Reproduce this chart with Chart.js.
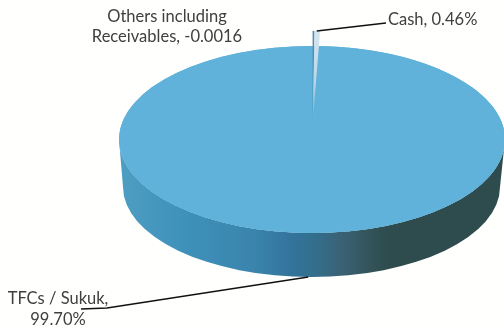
<!DOCTYPE html>
<html>
<head>
<meta charset="utf-8">
<title>Asset allocation</title>
<script src="https://cdn.jsdelivr.net/npm/chart.js@4/dist/chart.umd.min.js"></script>
<style>
  html, body { margin: 0; padding: 0; background: #fffffd; }
  #wrap { position: relative; width: 504px; height: 328px; overflow: hidden; }
</style>
</head>
<body>
<div id="wrap"><canvas id="allocationPie"></canvas></div>
<script>
// slice values as fractions of the fund, smallest first so they sit at 12 o'clock
const categories = ['Others including Receivables', 'Cash', 'TFCs / Sukuk'];
const shares = [-0.0016, 0.0046, 0.9970];
const shareLabels = ['-0.0016', '0.46%', '99.70%'];

const canvas = document.getElementById('allocationPie');
const chartCtx = canvas.getContext('2d');

// ===== 3D LOOK =====
// the flat pie gets squashed into an ellipse and a side wall goes under it
const tilt = { cx: 312, cy: 139.5, rx: 193, ry: 93.5 };
const base = { cx: 311.5, cy: 187, rx: 188.5, ry: 90 };
const explodeLift = 15;
const faceColor = '#60b2da';

function wallGradient(ctx) {
    const g = ctx.createLinearGradient(tilt.cx - tilt.rx, 0, tilt.cx + tilt.rx, 0);
    g.addColorStop(0, '#4f9dc2');
    g.addColorStop(0.16, '#3f92bb');
    g.addColorStop(0.35, '#3a84ad');
    g.addColorStop(0.45, '#33739a');
    g.addColorStop(0.5, '#33708f');
    g.addColorStop(0.58, '#3a6173');
    g.addColorStop(0.65, '#335459');
    g.addColorStop(0.7, '#2e4b4e');
    g.addColorStop(1, '#2e4b4e');
    return g;
}

function drawWall(ctx, arc) {
    // only the part of a slice facing the viewer has a visible wall
    const from = Math.max(arc.startAngle, 0);
    const to = Math.min(arc.endAngle, Math.PI);
    if (to <= from) return;
    ctx.beginPath();
    ctx.ellipse(tilt.cx, tilt.cy, tilt.rx, tilt.ry, 0, from, to);
    ctx.ellipse(base.cx, base.cy, base.rx, base.ry, 0, to, from, true);
    ctx.closePath();
    ctx.fillStyle = wallGradient(ctx);
    ctx.fill();
}

// pale at the rim, fading into the top face towards the tip
const cashColor = chartCtx.createLinearGradient(0, -30, 0, 134);
cashColor.addColorStop(0, '#d8e6ef');
cashColor.addColorStop(0.6, '#b5d5e8');
cashColor.addColorStop(1, faceColor);

const sliceColors = ['#4a8fb5', cashColor, faceColor];

const tiltPlugin = {
    id: 'tilt',
    afterDatasetsUpdate(chart) {
        // pull the small slices out together (the offset option collapses slices this thin)
        const arcs = chart.getDatasetMeta(0).data;
        const lift = explodeLift * arcs[2].outerRadius / tilt.ry;
        const mid = (arcs[0].startAngle + arcs[1].endAngle) / 2;
        [arcs[0], arcs[1]].forEach(arc => {
            arc.x += Math.cos(mid) * lift;
            arc.y += Math.sin(mid) * lift;
        });
    },
    beforeDatasetsDraw(chart) {
        const ctx = chart.ctx;
        const arcs = chart.getDatasetMeta(0).data;
        arcs.forEach(arc => drawWall(ctx, arc));
        // closes the gap left behind by the pulled out slices
        ctx.beginPath();
        ctx.ellipse(tilt.cx, tilt.cy, tilt.rx, tilt.ry, 0, 0, Math.PI * 2);
        ctx.fillStyle = faceColor;
        ctx.fill();
        ctx.save();
        ctx.translate(tilt.cx, tilt.cy);
        ctx.scale(tilt.rx / arcs[2].outerRadius, tilt.ry / arcs[2].outerRadius);
        ctx.translate(-arcs[2].x, -arcs[2].y);
    },
    afterDatasetsDraw(chart) {
        chart.ctx.restore();
    }
};

// ===== LABELS AND LEADER LINES =====
function rimPoint(chart, i, lift) {
    const arcs = chart.getDatasetMeta(0).data;
    const mid = (arcs[i].startAngle + arcs[i].endAngle) / 2;
    return {
        x: tilt.cx + Math.cos(mid) * tilt.rx,
        y: tilt.cy + Math.sin(mid) * tilt.ry + lift
    };
}

const labelPlugin = {
    id: 'sliceLabels',
    afterDraw(chart) {
        const ctx = chart.ctx;
        ctx.save();

        // leaders
        const cashTip = rimPoint(chart, 1, -explodeLift);
        const tfcFoot = rimPoint(chart, 2, base.cy + base.ry - tilt.cy - tilt.ry);
        ctx.strokeStyle = '#111111';
        ctx.lineWidth = 1.4;
        ctx.beginPath();
        ctx.moveTo(cashTip.x, cashTip.y);
        ctx.lineTo(386, 23);
        ctx.moveTo(tfcFoot.x, tfcFoot.y);
        ctx.lineTo(107, 308);
        ctx.lineTo(81, 309);
        ctx.stroke();

        // text
        ctx.fillStyle = '#404040';
        ctx.font = '16.5px Lato';
        ctx.textBaseline = 'alphabetic';
        ctx.textAlign = 'center';
        ctx.fillText('Others including', 167, 22);
        ctx.fillText('Receivables, ' + shareLabels[0], 167, 42);
        ctx.fillText(categories[2] + ',', 58, 304);
        ctx.fillText(shareLabels[2], 58, 325);
        ctx.textAlign = 'left';
        ctx.fillText(categories[1] + ', ' + shareLabels[1], 388, 25);
        ctx.restore();
    }
};

new Chart(chartCtx, {
    type: 'pie',
    data: {
        labels: categories,
        datasets: [{
            data: shares,
            backgroundColor: sliceColors,
            borderWidth: 0,
            clip: false
        }]
    },
    options: {
        responsive: true,
        maintainAspectRatio: false,
        animation: false,
        plugins: {
            legend: { display: false },
            tooltip: { enabled: false }
        }
    },
    plugins: [tiltPlugin, labelPlugin]
});
</script>
</body>
</html>
